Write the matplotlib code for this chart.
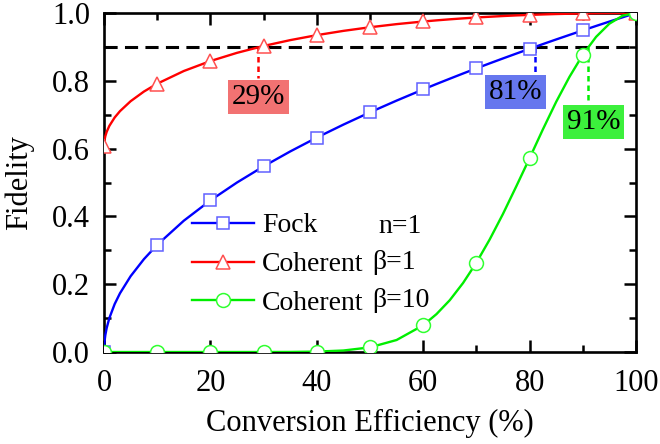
import matplotlib
matplotlib.use("Agg")
import matplotlib.pyplot as plt
from matplotlib.lines import Line2D
from matplotlib.ticker import MultipleLocator, FormatStrFormatter

plt.rcParams['font.family'] = 'serif'
plt.rcParams['font.serif'] = ['Liberation Serif', 'DejaVu Serif']
plt.rcParams['mathtext.fontset'] = 'stix'
FAM = 'Liberation Serif'

# ---------------- data ----------------
x_curve = [0, 0.1, 0.25, 0.5, 1, 2, 3, 5, 7.5, 10, 15, 20, 25, 30, 35, 40, 45, 50,
           55, 60, 62.5, 65, 67.5, 70, 72.5, 75, 77.5, 80, 82.5, 85, 87.5, 90,
           92.5, 95, 97.5, 100]
fock_curve = [0, 0.0316, 0.05, 0.0707, 0.1, 0.1414, 0.1732, 0.2236, 0.2739, 0.3162,
              0.3873, 0.4472, 0.5, 0.5477, 0.5916, 0.6325, 0.6708, 0.7071, 0.7416,
              0.7746, 0.7906, 0.8062, 0.8216, 0.8367, 0.8515, 0.8660, 0.8803, 0.8944,
              0.9083, 0.9220, 0.9354, 0.9487, 0.9618, 0.9747, 0.9874, 1.0]
coh1_curve = [0.6065, 0.6257, 0.6368, 0.6494, 0.6670, 0.6917, 0.7105, 0.7398, 0.7683,
              0.7915, 0.8289, 0.8583, 0.8825, 0.9028, 0.9200, 0.9347, 0.9473, 0.9580,
              0.9672, 0.9749, 0.9783, 0.9814, 0.9842, 0.9868, 0.9890, 0.9911, 0.9929,
              0.9944, 0.9958, 0.9970, 0.9979, 0.9987, 0.9993, 0.9997, 0.9999, 1.0]
coh10_curve = [0, 0, 0, 0, 0, 0, 0, 0, 0, 0, 0, 0, 0, 0.00004, 0.0002, 0.0012, 0.0044,
               0.0137, 0.0354, 0.0789, 0.1118, 0.1529, 0.2037, 0.2636, 0.3320, 0.4074,
               0.4887, 0.5718, 0.6567, 0.7380, 0.8117, 0.8767, 0.9296, 0.9685, 0.9921, 1.0]

x_marks = [0, 10, 20, 30, 40, 50, 60, 70, 80, 90, 100]
fock_marks = [0, 0.316, 0.447, 0.548, 0.632, 0.707, 0.775, 0.837, 0.894, 0.949, 1.0]
coh1_marks = [0.607, 0.792, 0.858, 0.903, 0.935, 0.958, 0.975, 0.987, 0.994, 0.999, 1.0]
coh10_marks = [0, 0, 0, 0, 0.001, 0.014, 0.079, 0.264, 0.572, 0.877, 1.0]

threshold = 0.9
cross_x = [29, 81, 91]
cross_labels = ['29%', '81%', '91%']
label_pos_x = [29.1, 77.3, 92.0]
label_pos_y = [0.752, 0.767, 0.678]
dash_end_y = [0.808, 0.823, 0.734]

series_names = ['Fock', 'Coherent', 'Coherent']
series_params = ['n=1', 'β=1', 'β=10']

# ---------------- styles ----------------
line_cols = ['#0000ff', '#ff0000', '#00ee00']
edge_cols = ['#6060ff', '#ff5050', '#30ff30']
markers = ['s', '^', 'o']
msizes = [9, 10.5, 10]

fig = plt.figure(figsize=(6.6, 4.44), dpi=100)
ax = fig.add_axes([0.1576, 0.2072, 0.8060, 0.7635])

curves = [fock_curve, coh1_curve, coh10_curve]
marks = [fock_marks, coh1_marks, coh10_marks]

ax.axhline(threshold, color='black', lw=2.2, ls=(0, (4.3, 2.4)), zorder=2)

handles = []
for i in range(3):
    ax.plot(x_curve, curves[i], color=line_cols[i], lw=1.7, zorder=3)
    ax.plot(x_marks, marks[i], ls='none', marker=markers[i], ms=msizes[i],
            mfc='white', mec=edge_cols[i], mew=1.1, zorder=4)
    handles.append(Line2D([], [], color=line_cols[i], lw=1.7, marker=markers[i],
                          ms=msizes[i], mfc='white', mec=edge_cols[i], mew=1.1))

cross_line_cols = ['#ff0000', '#0000ff', '#00ee00']
cross_box_cols = ['#f27272', '#6677ee', '#3cf03c']
for cx, lab, lx, ly, dy, lc, bc in zip(cross_x, cross_labels, label_pos_x, label_pos_y,
                                       dash_end_y, cross_line_cols, cross_box_cols):
    ax.plot([cx, cx], [threshold, dy], color=lc, lw=1.8, ls=(0, (2.2, 1.6)), zorder=2.5)
    ax.text(lx, ly, lab, ha='center', va='center', fontsize=21, zorder=5, family=FAM,
            bbox=dict(boxstyle='square,pad=0.13', fc=bc, ec='none'))

leg = ax.legend(handles, series_names, loc='center left',
                bbox_to_anchor=(0.165, 0.258), frameon=False,
                prop={'family': FAM, 'size': 20},
                handlelength=2.23, handletextpad=0.3, labelspacing=0.48,
                borderaxespad=0, borderpad=0)
leg_y = [0.369, 0.263, 0.153]
leg_x = [0.515, 0.505, 0.505]
for t, yy, xx in zip(series_params, leg_y, leg_x):
    ax.text(xx, yy, t, transform=ax.transAxes, fontsize=20, va='center', ha='left',
            family=FAM)

ax.set_xlim(0, 100)
ax.set_ylim(0, 1.0)
ax.xaxis.set_major_locator(MultipleLocator(20))
ax.xaxis.set_minor_locator(MultipleLocator(10))
ax.yaxis.set_major_locator(MultipleLocator(0.2))
ax.yaxis.set_minor_locator(MultipleLocator(0.1))
ax.yaxis.set_major_formatter(FormatStrFormatter('%.1f'))

ax.tick_params(which='both', direction='in', top=True, right=True, width=1.8,
               labelsize=22)
ax.tick_params(which='major', length=8.5)
ax.tick_params(which='minor', length=5)
ax.tick_params(axis='x', which='major', pad=12)
ax.tick_params(axis='y', which='major', pad=10)
for lab in ax.get_xticklabels() + ax.get_yticklabels():
    lab.set_family(FAM)
for s in ax.spines.values():
    s.set_linewidth(1.9)

ax.set_xlabel('Conversion Efficiency (%)', fontsize=22, labelpad=8, family=FAM)
ax.set_ylabel('Fidelity', fontsize=22, labelpad=13, family=FAM)

fig.savefig('out.png', dpi=100)
